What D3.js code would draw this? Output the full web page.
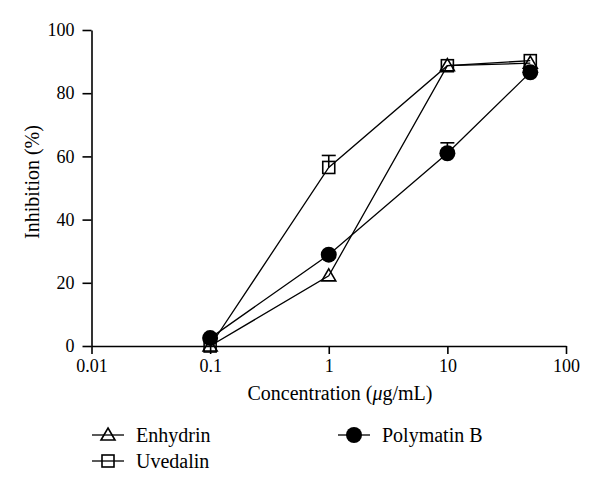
<!DOCTYPE html>
<html><head><meta charset="utf-8">
<script src="https://cdn.jsdelivr.net/npm/d3@7"></script>
<style>body{margin:0;background:#fff}</style>
</head><body>
<script>
const concentrations = [0.1, 1, 10, 50];
const enhydrin = [0, 22.2, 88.7, 89.5];
const enhydrinErr = [0, 0, 0, 0];
const uvedalin = [0, 56.5, 88.7, 90.3];
const uvedalinErr = [0, 3.8, 0, 0];
const polymatinB = [2.5, 28.9, 61.0, 86.6];
const polymatinBErr = [0, 0, 3.3, 0];
const xTicks = [0.01, 0.1, 1, 10, 100];
const xTickLabels = ["0.01", "0.1", "1", "10", "100"];
const yTicks = [0, 20, 40, 60, 80, 100];
const seriesNames = ["Enhydrin", "Uvedalin", "Polymatin B"];

const FONT = "'Times New Roman', 'Liberation Serif', serif";
const W = 600, H = 497;
const svg = d3.select("body").append("svg").attr("width", W).attr("height", H).style("font-family", FONT);
const x = d3.scaleLog().domain([0.01, 100]).range([91.5, 566]);
const y = d3.scaleLinear().domain([0, 100]).range([346, 30]);

const series = [
  {name: seriesNames[0], vals: enhydrin, err: enhydrinErr, shape: "tri"},
  {name: seriesNames[1], vals: uvedalin, err: uvedalinErr, shape: "sq"},
  {name: seriesNames[2], vals: polymatinB, err: polymatinBErr, shape: "circ"}
];

// axes
const xAxis = d3.axisBottom(x).tickValues(xTicks).tickFormat((d, i) => xTickLabels[i]).tickSize(8).tickSizeOuter(0).tickPadding(5);
const yAxis = d3.axisLeft(y).tickValues(yTicks).tickSize(9).tickSizeOuter(0).tickPadding(8);
const gx = svg.append("g").attr("transform", `translate(0,${y(0)})`).call(xAxis);
const gy = svg.append("g").attr("transform", `translate(${x(0.01)},0)`).call(yAxis);
[gx, gy].forEach(g => {
  g.attr("font-family", null).attr("font-size", null);
  g.select(".domain").attr("stroke", "#000").attr("stroke-width", 1.6);
  g.selectAll(".tick line").attr("stroke", "#000").attr("stroke-width", 1.6);
  g.selectAll(".tick text").style("font-family", FONT).style("font-size", "18px").attr("fill", "#000");
});

// axis titles
const xt = svg.append("text").attr("x", 340).attr("y", 393).attr("dy", "0.35em").attr("text-anchor", "middle")
  .style("font-family", FONT).style("font-size", "20px").attr("fill", "#000");
xt.append("tspan").text("Concentration (");
xt.append("tspan").style("font-style", "italic").text("μ");
xt.append("tspan").text("g/mL)");
svg.append("text").attr("transform", "translate(32,182) rotate(-90)").attr("dy", "0.35em")
  .attr("text-anchor", "middle").style("font-family", FONT).style("font-size", "20px").attr("fill", "#000").text("Inhibition (%)");

function marker(g, shape, cx, cy) {
  if (shape === "circ") {
    g.append("circle").attr("cx", cx).attr("cy", cy).attr("r", 8).attr("fill", "#000");
  } else if (shape === "sq") {
    g.append("rect").attr("x", cx - 6).attr("y", cy - 6).attr("width", 12).attr("height", 12)
      .attr("fill", "none").attr("stroke", "#000").attr("stroke-width", 1.6);
  } else {
    g.append("path").attr("d", `M${cx},${cy - 7}L${cx + 7},${cy + 5}L${cx - 7},${cy + 5}Z`)
      .attr("fill", "none").attr("stroke", "#000").attr("stroke-width", 1.6);
  }
}

const line = d3.line().x(d => x(d[0])).y(d => y(d[1]));
series.forEach(s => {
  const pts = concentrations.map((c, i) => [c, s.vals[i]]);
  svg.append("path").attr("d", line(pts)).attr("fill", "none").attr("stroke", "#000").attr("stroke-width", 1.3);
});
series.forEach(s => {
  const g = svg.append("g");
  concentrations.forEach((c, i) => {
    if (s.err[i] > 0) {
      const cx = x(c), top = y(s.vals[i] + s.err[i]);
      g.append("line").attr("x1", cx).attr("x2", cx).attr("y1", y(s.vals[i])).attr("y2", top).attr("stroke", "#000").attr("stroke-width", 1.6);
      g.append("line").attr("x1", cx - 7).attr("x2", cx + 7).attr("y1", top).attr("y2", top).attr("stroke", "#000").attr("stroke-width", 1.6);
    }
  });
  concentrations.forEach((c, i) => marker(g, s.shape, x(c), y(s.vals[i])));
});

// legend
const legendPos = [{lx: 92, ly: 435}, {lx: 92, ly: 461}, {lx: 338, ly: 435}];
series.forEach((s, i) => {
  const p = legendPos[i];
  const g = svg.append("g");
  g.append("line").attr("x1", p.lx).attr("x2", p.lx + 32).attr("y1", p.ly).attr("y2", p.ly).attr("stroke", "#000").attr("stroke-width", 1.3);
  marker(g, s.shape, p.lx + 16, p.ly);
  g.append("text").attr("x", p.lx + 44).attr("y", p.ly).attr("dy", "0.35em")
    .style("font-family", FONT).style("font-size", "20px").attr("fill", "#000").text(s.name);
});
</script>
</body></html>
